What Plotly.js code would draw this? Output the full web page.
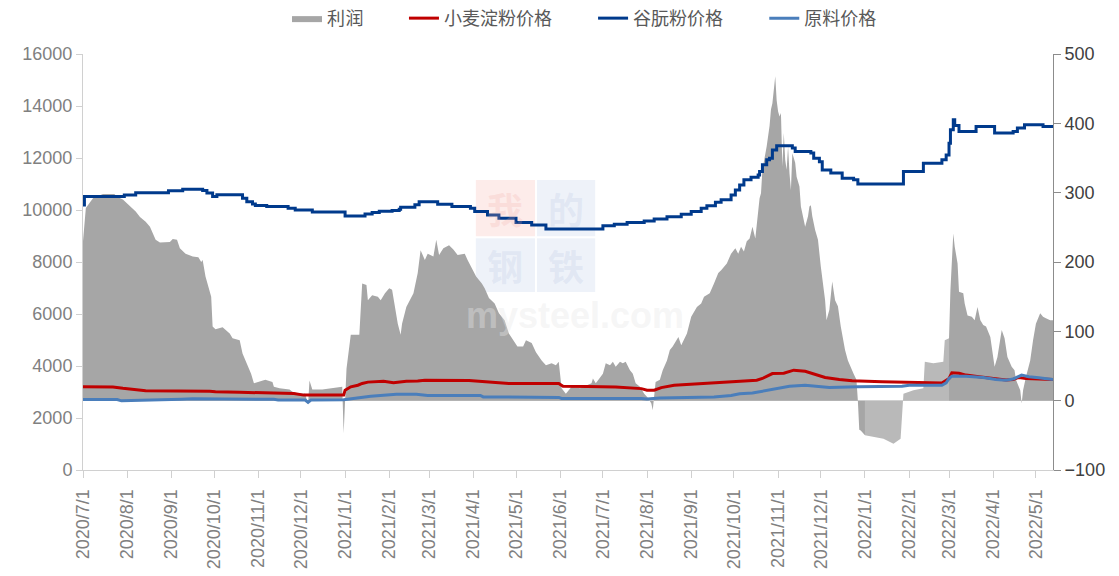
<!DOCTYPE html>
<html><head><meta charset="utf-8">
<script src="https://cdn.plot.ly/plotly-3.0.1.min.js"></script>
<style>html,body{margin:0;padding:0;background:#fff;}#chart{width:1119px;height:576px;}
.legendtext{letter-spacing:0.6px;}</style>
</head><body><div id="chart"></div>
<script>
// ---------- DATA ----------
const seriesNames = ['利润', '小麦淀粉价格', '谷朊粉价格', '原料价格'];

const profitDates = ['2020-07-01','2020-07-03','2020-07-08','2020-07-15','2020-07-23','2020-07-25','2020-07-29','2020-08-03','2020-08-07','2020-08-10','2020-08-14','2020-08-17','2020-08-21','2020-08-24','2020-08-31','2020-09-02','2020-09-05','2020-09-07','2020-09-11','2020-09-16','2020-09-20','2020-09-22','2020-09-23','2020-09-25','2020-09-29','2020-09-30','2020-10-02','2020-10-07','2020-10-09','2020-10-12','2020-10-14','2020-10-19','2020-10-21','2020-10-24','2020-10-27','2020-10-29','2020-11-01','2020-11-04','2020-11-06','2020-11-11','2020-11-12','2020-11-16','2020-11-23','2020-11-25','2020-11-28','2020-12-04','2020-12-06','2020-12-07','2020-12-09','2020-12-16','2020-12-23','2020-12-30','2020-12-31','2021-01-02','2021-01-05','2021-01-11','2021-01-13','2021-01-16','2021-01-17','2021-01-20','2021-01-24','2021-01-26','2021-01-29','2021-02-01','2021-02-03','2021-02-05','2021-02-07','2021-02-09','2021-02-10','2021-02-13','2021-02-18','2021-02-21','2021-02-23','2021-02-26','2021-02-28','2021-03-04','2021-03-06','2021-03-08','2021-03-11','2021-03-15','2021-03-18','2021-03-21','2021-03-26','2021-03-28','2021-04-01','2021-04-03','2021-04-07','2021-04-09','2021-04-12','2021-04-16','2021-04-19','2021-04-23','2021-04-26','2021-04-29','2021-05-02','2021-05-06','2021-05-08','2021-05-12','2021-05-15','2021-05-19','2021-05-22','2021-05-26','2021-05-29','2021-05-31','2021-06-02','2021-06-05','2021-06-09','2021-06-15','2021-06-23','2021-06-24','2021-06-26','2021-07-01','2021-07-03','2021-07-06','2021-07-08','2021-07-10','2021-07-13','2021-07-15','2021-07-17','2021-07-20','2021-07-22','2021-07-24','2021-07-27','2021-07-30','2021-08-02','2021-08-04','2021-08-05','2021-08-07','2021-08-10','2021-08-12','2021-08-15','2021-08-17','2021-08-19','2021-08-23','2021-08-25','2021-08-29','2021-09-01','2021-09-05','2021-09-08','2021-09-10','2021-09-14','2021-09-17','2021-09-20','2021-09-22','2021-09-26','2021-09-29','2021-10-02','2021-10-04','2021-10-06','2021-10-08','2021-10-10','2021-10-12','2021-10-14','2021-10-16','2021-10-17','2021-10-19','2021-10-20','2021-10-21','2021-10-24','2021-10-25','2021-10-26','2021-10-27','2021-10-28','2021-10-30','2021-10-31','2021-11-01','2021-11-02','2021-11-03','2021-11-04','2021-11-05','2021-11-06','2021-11-07','2021-11-08','2021-11-09','2021-11-10','2021-11-11','2021-11-13','2021-11-14','2021-11-16','2021-11-17','2021-11-20','2021-11-22','2021-11-23','2021-11-24','2021-11-25','2021-11-27','2021-11-29','2021-12-01','2021-12-04','2021-12-05','2021-12-06','2021-12-07','2021-12-09','2021-12-11','2021-12-13','2021-12-15','2021-12-18','2021-12-20','2021-12-24','2021-12-26','2021-12-27','2021-12-28','2021-12-29','2022-01-01','2022-01-07','2022-01-14','2022-01-21','2022-01-26','2022-01-28','2022-02-04','2022-02-11','2022-02-12','2022-02-18','2022-02-25','2022-02-26','2022-03-01','2022-03-02','2022-03-04','2022-03-05','2022-03-07','2022-03-08','2022-03-11','2022-03-12','2022-03-14','2022-03-17','2022-03-19','2022-03-21','2022-03-23','2022-03-25','2022-03-27','2022-03-30','2022-04-01','2022-04-02','2022-04-04','2022-04-07','2022-04-09','2022-04-11','2022-04-14','2022-04-16','2022-04-17','2022-04-20','2022-04-21','2022-04-22','2022-04-24','2022-04-27','2022-04-29','2022-05-01','2022-05-04','2022-05-06','2022-05-08','2022-05-11','2022-05-13'];
const profitValues = [230,278,292,298,298,294,290,280,273,265,258,251,232,228,229,233,232,220,212,208,207,200,203,179,150,107,103,106,102,97,90,87,68,54,39,25,27,29,30,27,20,18,16,13,11,10,-6,29,16,16,18,20,-47,46,95,95,169,167,145,152,150,145,155,162,160,135,111,95,111,135,155,184,217,203,212,208,232,210,220,224,218,210,212,203,188,179,169,162,148,140,126,116,97,87,78,78,87,83,70,58,51,54,51,56,18,10,20,18,25,32,25,39,54,51,56,49,56,54,56,44,39,25,20,10,3,-4,-14,27,30,44,58,73,78,92,80,97,121,135,140,150,155,169,184,188,198,212,220,212,222,215,230,234,251,234,256,292,299,333,367,381,396,420,429,468,433,417,410,415,338,386,347,333,367,328,304,357,343,323,309,280,251,266,280,282,266,246,232,193,145,116,126,131,172,145,136,107,73,58,39,30,0,-42,-43,-50,-52,-55,-62,-55,10,15,18,56,54,56,87,90,160,241,222,198,157,155,140,123,121,116,135,116,109,107,92,63,49,63,102,90,63,49,44,30,15,-4,15,34,58,87,111,126,121,119,116,116];
// period where the profit area is drawn as a lighter, hatched-looking band
const profitLightStart = '2022-01-01';
const profitLightEnd = '2022-03-01';

const glutenDates = ['2020-07-01','2020-07-02','2020-07-30','2020-08-07','2020-08-30','2020-09-09','2020-09-23','2020-09-26','2020-09-30','2020-10-03','2020-10-21','2020-10-24','2020-10-28','2020-10-30','2020-11-07','2020-11-22','2020-11-27','2020-12-09','2021-01-01','2021-01-15','2021-01-20','2021-01-25','2021-02-03','2021-02-08','2021-02-09','2021-02-19','2021-02-22','2021-03-07','2021-03-17','2021-03-30','2021-04-02','2021-04-11','2021-04-19','2021-05-01','2021-05-12','2021-05-22','2021-07-01','2021-07-09','2021-07-18','2021-07-30','2021-08-06','2021-08-15','2021-08-25','2021-09-01','2021-09-08','2021-09-12','2021-09-18','2021-09-22','2021-09-29','2021-10-02','2021-10-05','2021-10-08','2021-10-13','2021-10-18','2021-10-19','2021-10-21','2021-10-24','2021-10-26','2021-10-28','2021-10-31','2021-11-11','2021-11-13','2021-11-24','2021-11-26','2021-11-30','2021-12-02','2021-12-08','2021-12-16','2021-12-24','2021-12-27','2022-01-28','2022-02-11','2022-02-24','2022-02-27','2022-03-01','2022-03-02','2022-03-04','2022-03-05','2022-03-08','2022-03-20','2022-04-02','2022-04-15','2022-04-18','2022-04-23','2022-05-06','2022-05-13'];
const glutenValues = [10190,10520,10580,10660,10740,10800,10750,10650,10520,10590,10450,10320,10230,10170,10130,10070,10000,9920,9770,9850,9900,9950,9980,10030,10110,10200,10320,10220,10130,10070,9940,9810,9680,9515,9425,9270,9390,9450,9520,9580,9650,9745,9840,9940,10065,10160,10300,10390,10580,10770,10960,11160,11260,11350,11480,11740,11930,11990,12310,12470,12380,12250,12190,11990,11860,11540,11420,11220,11160,11000,11480,11800,11930,12120,12570,13085,13470,13250,13020,13210,12960,13020,13150,13280,13210,13210];

const starchDates = ['2020-07-01','2020-07-22','2020-07-29','2020-08-05','2020-08-14','2020-09-28','2020-10-02','2020-10-19','2020-11-21','2020-11-26','2020-12-03','2020-12-31','2021-01-01','2021-01-05','2021-01-10','2021-01-13','2021-01-17','2021-01-28','2021-02-04','2021-02-08','2021-02-13','2021-02-21','2021-02-26','2021-03-29','2021-04-14','2021-04-26','2021-05-31','2021-06-03','2021-06-20','2021-07-10','2021-07-28','2021-08-01','2021-08-06','2021-08-11','2021-08-20','2021-09-01','2021-09-17','2021-10-02','2021-10-17','2021-10-21','2021-10-26','2021-10-28','2021-11-05','2021-11-09','2021-11-12','2021-11-20','2021-11-25','2021-11-30','2021-12-04','2021-12-14','2021-12-23','2022-01-13','2022-02-01','2022-02-24','2022-03-01','2022-03-03','2022-03-08','2022-03-13','2022-03-22','2022-03-31','2022-04-10','2022-04-15','2022-04-19','2022-04-24','2022-05-01','2022-05-13'];
const starchValues = [3200,3190,3140,3100,3050,3030,3010,2990,2970,2940,2880,2880,3070,3200,3260,3330,3380,3410,3360,3390,3410,3420,3450,3440,3390,3330,3330,3220,3210,3190,3130,3070,3070,3170,3260,3300,3330,3380,3450,3520,3650,3710,3720,3780,3840,3800,3710,3650,3560,3480,3430,3390,3360,3350,3520,3740,3720,3650,3590,3520,3460,3480,3560,3520,3500,3480];

const rawDates = ['2020-07-01','2020-07-25','2020-07-28','2020-08-17','2020-09-08','2020-09-16','2020-10-19','2020-10-22','2020-11-12','2020-11-15','2020-12-04','2020-12-06','2020-12-08','2020-12-31','2021-01-05','2021-01-12','2021-01-19','2021-01-28','2021-02-06','2021-02-20','2021-02-28','2021-04-06','2021-04-08','2021-05-31','2021-06-02','2021-07-28','2021-08-01','2021-08-10','2021-09-17','2021-09-29','2021-10-05','2021-10-14','2021-10-21','2021-10-26','2021-11-01','2021-11-09','2021-11-20','2021-11-30','2021-12-07','2021-12-27','2022-01-27','2022-02-01','2022-02-24','2022-02-27','2022-03-01','2022-03-03','2022-03-13','2022-03-25','2022-04-03','2022-04-10','2022-04-15','2022-04-21','2022-04-26','2022-05-03','2022-05-13'];
const rawValues = [2710,2710,2660,2680,2720,2740,2740,2720,2720,2690,2690,2600,2690,2700,2740,2775,2840,2876,2914,2914,2870,2865,2812,2790,2750,2748,2735,2773,2812,2863,2930,2960,3030,3090,3130,3220,3260,3200,3170,3200,3220,3260,3260,3350,3520,3610,3610,3560,3480,3455,3500,3650,3590,3545,3480];

const leftTicks = [0, 2000, 4000, 6000, 8000, 10000, 12000, 14000, 16000];
const rightTicks = [-100, 0, 100, 200, 300, 400, 500];

// ---------- BUILD ----------
function slice(dates, vals, from, to) {
  const x = [], y = [];
  dates.forEach((d, i) => { if (d >= from && d <= to) { x.push(d); y.push(vals[i]); } });
  return {x, y};
}
const pA = slice(profitDates, profitValues, '0000', profitLightStart);
const pB = slice(profitDates, profitValues, profitLightStart, profitLightEnd);
const pC = slice(profitDates, profitValues, profitLightEnd, '9999');

const grey = '#a6a6a6';
const areaBase = {type: 'scatter', mode: 'lines', fill: 'tozeroy', yaxis: 'y',
  line: {width: 0, color: grey}, hoverinfo: 'skip', legendgroup: 'p'};

const traces = [
  Object.assign({}, areaBase, {x: pA.x, y: pA.y, name: seriesNames[0], fillcolor: grey, showlegend: true, legend: 'legend'}),
  Object.assign({}, areaBase, {x: pB.x, y: pB.y, name: seriesNames[0], fillcolor: '#b9b9b9', showlegend: false}),
  Object.assign({}, areaBase, {x: pC.x, y: pC.y, name: seriesNames[0], fillcolor: grey, showlegend: false}),
  {type: 'scatter', mode: 'lines', x: starchDates, y: starchValues, name: seriesNames[1], yaxis: 'y2',
   line: {color: '#c00000', width: 3}, legend: 'legend2'},
  {type: 'scatter', mode: 'lines', x: glutenDates, y: glutenValues, name: seriesNames[2], yaxis: 'y2',
   line: {color: '#003a8c', width: 3, shape: 'hv'}, legend: 'legend3'},
  {type: 'scatter', mode: 'lines', x: rawDates, y: rawValues, name: seriesNames[3], yaxis: 'y2',
   line: {color: '#4a7ebb', width: 3}, legend: 'legend4'}
];

const tickFont = {family: 'Liberation Sans, Arial, sans-serif', size: 18, color: '#808080'};
function legendAt(x) {
  return {orientation: 'h', xref: 'container', yref: 'container', x: x, xanchor: 'left',
    y: 0.968, yanchor: 'middle', bgcolor: 'rgba(0,0,0,0)', borderwidth: 0,
    font: {family: 'Noto Sans CJK SC, sans-serif', size: 18, color: '#595959'}};
}

const layout = {
  width: 1119, height: 576,
  margin: {l: 83, r: 66, t: 54, b: 106, pad: 0},
  paper_bgcolor: '#ffffff', plot_bgcolor: 'rgba(0,0,0,0)',
  showlegend: true,
  legend: legendAt(0.2565),
  legend2: legendAt(0.3610),
  legend3: legendAt(0.5300),
  legend4: legendAt(0.6830),
  xaxis: {type: 'date', range: ['2020-07-01', '2022-05-13'], tick0: '2020-07-01', dtick: 'M1',
    tickformat: '%Y/%-m/%-d', tickangle: -90, ticks: 'outside', ticklen: 7, tickcolor: '#d0d0d0',
    ticklabelstandoff: 4,
    showline: true, linecolor: '#d0d0d0', linewidth: 1, showgrid: false, zeroline: false,
    tickfont: {family: 'Liberation Sans, Arial, sans-serif', size: 18, color: '#808080'}, fixedrange: true},
  yaxis: {side: 'right', range: [-100, 500], tickvals: rightTicks, ticks: 'outside', ticklen: 7,
    tickcolor: '#8c8c8c', showline: true, linecolor: '#8c8c8c', linewidth: 1, showgrid: false,
    zeroline: true, zerolinecolor: '#d9d9d9', zerolinewidth: 1,
    tickfont: {family: 'Liberation Sans, Arial, sans-serif', size: 18, color: '#404040'}},
  yaxis2: {side: 'left', overlaying: 'y', range: [0, 16000], tickvals: leftTicks, tickformat: 'd',
    ticks: 'outside', ticklen: 6, tickcolor: '#d0d0d0', showline: true, linecolor: '#d0d0d0', linewidth: 1,
    showgrid: false, zeroline: false, tickfont: tickFont},
  shapes: [
    {type: 'rect', xref: 'paper', yref: 'paper', x0: 0.405, x1: 0.466, y0: 0.562, y1: 0.697,
     fillcolor: 'rgba(250,200,196,0.35)', line: {width: 0}, layer: 'below'},
    {type: 'rect', xref: 'paper', yref: 'paper', x0: 0.468, x1: 0.528, y0: 0.562, y1: 0.697,
     fillcolor: 'rgba(200,212,236,0.3)', line: {width: 0}, layer: 'below'},
    {type: 'rect', xref: 'paper', yref: 'paper', x0: 0.405, x1: 0.466, y0: 0.428, y1: 0.557,
     fillcolor: 'rgba(200,212,236,0.3)', line: {width: 0}, layer: 'below'},
    {type: 'rect', xref: 'paper', yref: 'paper', x0: 0.468, x1: 0.528, y0: 0.428, y1: 0.557,
     fillcolor: 'rgba(200,212,236,0.3)', line: {width: 0}, layer: 'below'}
  ],
  annotations: [
    {text: '<b>我</b>', xref: 'paper', yref: 'paper', x: 0.4355, y: 0.63, showarrow: false,
     font: {family: 'Noto Sans CJK SC', size: 36, color: 'rgba(240,170,165,0.22)'}},
    {text: '<b>的</b>', xref: 'paper', yref: 'paper', x: 0.498, y: 0.63, showarrow: false,
     font: {family: 'Noto Sans CJK SC', size: 36, color: 'rgba(170,185,220,0.2)'}},
    {text: '<b>钢</b>', xref: 'paper', yref: 'paper', x: 0.4355, y: 0.493, showarrow: false,
     font: {family: 'Noto Sans CJK SC', size: 36, color: 'rgba(170,185,220,0.2)'}},
    {text: '<b>铁</b>', xref: 'paper', yref: 'paper', x: 0.498, y: 0.493, showarrow: false,
     font: {family: 'Noto Sans CJK SC', size: 36, color: 'rgba(170,185,220,0.2)'}},
    {text: '<b>mysteel.com</b>', xref: 'paper', yref: 'paper', x: 0.507, y: 0.372, showarrow: false,
     font: {family: 'Liberation Sans, Arial', size: 36, color: 'rgba(232,232,232,0.4)'}}
  ]
};

Plotly.newPlot('chart', traces, layout, {displayModeBar: false, staticPlot: true});
</script>
</body></html>
